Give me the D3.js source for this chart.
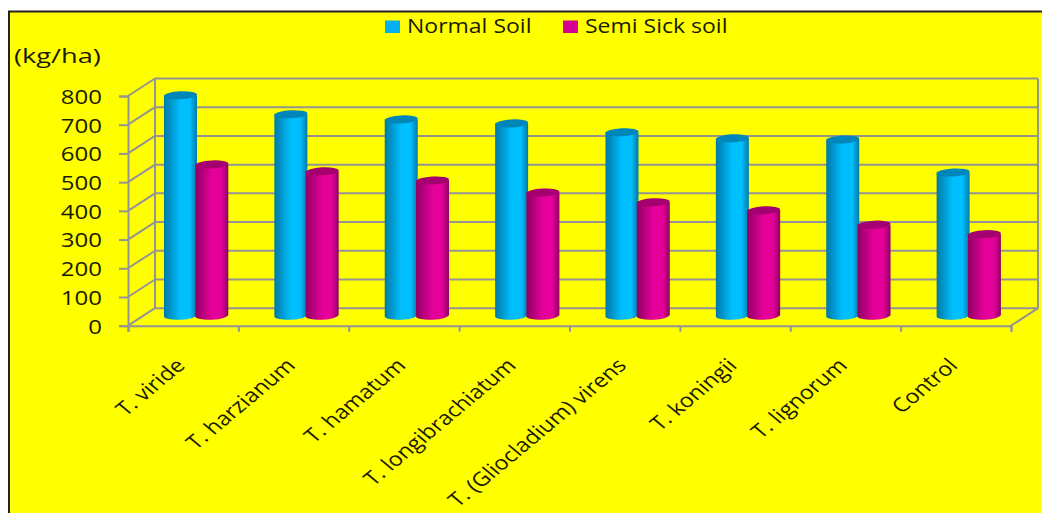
<!DOCTYPE html>
<html>
<head>
<meta charset="utf-8">
<script src="https://cdnjs.cloudflare.com/ajax/libs/d3/7.8.5/d3.min.js"></script>
<style>
  html, body { margin: 0; padding: 0; background: #fff; }
  svg { display: block; }
  text { font-family: "Open Sans", sans-serif; fill: #1a1a00; }
</style>
</head>
<body>
<svg id="chart"></svg>
<script>
const categories = ["T. viride", "T. harzianum", "T. hamatum", "T. longibrachiatum",
  "T. (Gliocladium) virens", "T. koningii", "T. lignorum", "Control"];
const normalSoil = [771, 705, 687, 673, 642, 621, 617, 502];
const semiSick = [530, 506, 474, 432, 398, 370, 320, 287];
const seriesNames = ["Normal Soil", "Semi Sick soil"];
const yTicks = [0, 100, 200, 300, 400, 500, 600, 700, 800];

const width = 1042, height = 513;
const GREY = "#949494";
const STRETCH = 1.2; // the source picture is stretched sideways, text included

const svg = d3.select("#chart").attr("width", width).attr("height", height);

// gradients for the cylinder sides
const defs = svg.append("defs");
function cylGradient(id, dark, mid) {
  const g = defs.append("linearGradient").attr("id", id);
  g.append("stop").attr("offset", "0%").attr("stop-color", dark);
  g.append("stop").attr("offset", "50%").attr("stop-color", mid);
  g.append("stop").attr("offset", "78%").attr("stop-color", mid);
  g.append("stop").attr("offset", "100%").attr("stop-color", dark);
}
cylGradient("blueSide", "#0079a6", "#00bfff");
cylGradient("pinkSide", "#8f0063", "#e6009a");

// panel
svg.append("rect")
  .attr("x", 9).attr("y", 11.5).attr("width", width - 9).attr("height", height - 11.5)
  .attr("fill", "#ffff00");
svg.append("path")
  .attr("d", `M9,${height}V11.5H${width}`)
  .attr("fill", "none").attr("stroke", "#222").attr("stroke-width", 2);

// front plane scales
const x = d3.scaleBand().domain(categories).range([128, 1011]);
const xIndex = d3.scaleLinear().domain([0, categories.length]).range([128, 1011]);
const y = d3.scaleLinear().domain([0, 800]).range([325.7, 96]);
// how far the back wall is shifted from the front plane
const depth = { dx: 27, dy: -17.5 };
// cylinders stand in the middle of the floor
const yBar = d3.scaleLinear().domain([0, 800]).range([316.5, 87]);

const wall = svg.append("g").attr("fill", "none").attr("stroke", GREY).attr("stroke-width", 2);

// back wall gridlines and left wall diagonals
yTicks.forEach(t => {
  const yy = y(t) + depth.dy;
  wall.append("line")
    .attr("x1", x.range()[0] + depth.dx).attr("x2", x.range()[1] + depth.dx)
    .attr("y1", yy).attr("y2", yy);
  wall.append("line")
    .attr("x1", x.range()[0]).attr("x2", x.range()[0] + depth.dx)
    .attr("y1", y(t)).attr("y2", yy);
});
wall.append("line")
  .attr("x1", x.range()[0] + depth.dx).attr("x2", x.range()[0] + depth.dx)
  .attr("y1", y(0) + depth.dy).attr("y2", y(800) + depth.dy);
wall.append("line")
  .attr("x1", x.range()[1] + depth.dx).attr("x2", x.range()[1] + depth.dx)
  .attr("y1", y(0) + depth.dy).attr("y2", y(800) + depth.dy);
wall.append("line")
  .attr("x1", x.range()[1]).attr("x2", x.range()[1] + depth.dx)
  .attr("y1", y(0)).attr("y2", y(0) + depth.dy);

// value axis
const yAxis = svg.append("g")
  .attr("transform", "translate(128,0)")
  .call(d3.axisLeft(y).tickValues(yTicks).tickSize(9));
yAxis.select(".domain").attr("stroke", GREY).attr("stroke-width", 2);
yAxis.selectAll(".tick line").attr("stroke", GREY).attr("stroke-width", 2);
yAxis.selectAll("text")
  .attr("font-size", 20)
  .attr("x", 0)
  .attr("transform", `translate(-26,1) scale(${STRETCH},1)`)
  .style("font-family", '"Open Sans", sans-serif');

// category ticks
const xAxis = svg.append("g")
  .attr("transform", `translate(0,${y(0)})`)
  .call(d3.axisBottom(xIndex).tickValues(d3.range(categories.length + 1)).tickSize(6).tickFormat(""));
xAxis.select(".domain").attr("stroke", GREY).attr("stroke-width", 2);
xAxis.selectAll(".tick line").attr("stroke", GREY).attr("stroke-width", 2);

// category labels
const xLabels = svg.append("g")
  .attr("transform", `translate(0,${y(0)})`)
  .call(d3.axisBottom(x).tickSize(0).tickPadding(0));
xLabels.select(".domain").remove();
xLabels.selectAll("text")
  .attr("text-anchor", "end")
  .attr("font-size", 19.5)
  .attr("dy", 0).attr("y", 0)
  .attr("transform", `translate(3,41) scale(${STRETCH},1) rotate(-45)`)
  .style("font-family", '"Open Sans", sans-serif');

// cylinders
const barW = 33, ry = 4;
const barOffset = [-2.7, 28.6];
function cylinder(sel, value, cx, side, top) {
  const yt = yBar(value), yb = yBar(0), r = barW / 2;
  sel.append("path")
    .attr("d", `M${cx - r},${yt}V${yb}A${r},${ry} -3 0 0 ${cx + r},${yb - 1.7}V${yt}Z`)
    .attr("fill", `url(#${side})`);
  sel.append("ellipse")
    .attr("cx", cx).attr("cy", yt).attr("rx", r).attr("ry", ry)
    .attr("transform", `rotate(-3 ${cx} ${yt})`)
    .attr("fill", top);
}
[[normalSoil, "blueSide", "#0086b8"], [semiSick, "pinkSide", "#a5006f"]].forEach((s, si) => {
  categories.forEach((c, i) => {
    const g = svg.append("g").attr("class", "bar");
    cylinder(g, s[0][i], x(c) + x.bandwidth() / 2 + barOffset[si], s[1], s[2]);
  });
});

// legend
const legendX = [385, 563], legendColors = ["#00b0f0", "#d60093"];
seriesNames.forEach((name, i) => {
  svg.append("rect")
    .attr("x", legendX[i]).attr("y", 20.5).attr("width", 15).attr("height", 12.5)
    .attr("fill", legendColors[i]);
  svg.append("text")
    .attr("transform", `translate(${legendX[i] + 22},33) scale(1.15,1)`)
    .attr("font-size", 20).text(name);
});

// unit label
svg.append("text")
  .attr("transform", `translate(14,63) scale(1.36,1)`)
  .attr("font-size", 20).text("(kg/ha)");
</script>
</body>
</html>
